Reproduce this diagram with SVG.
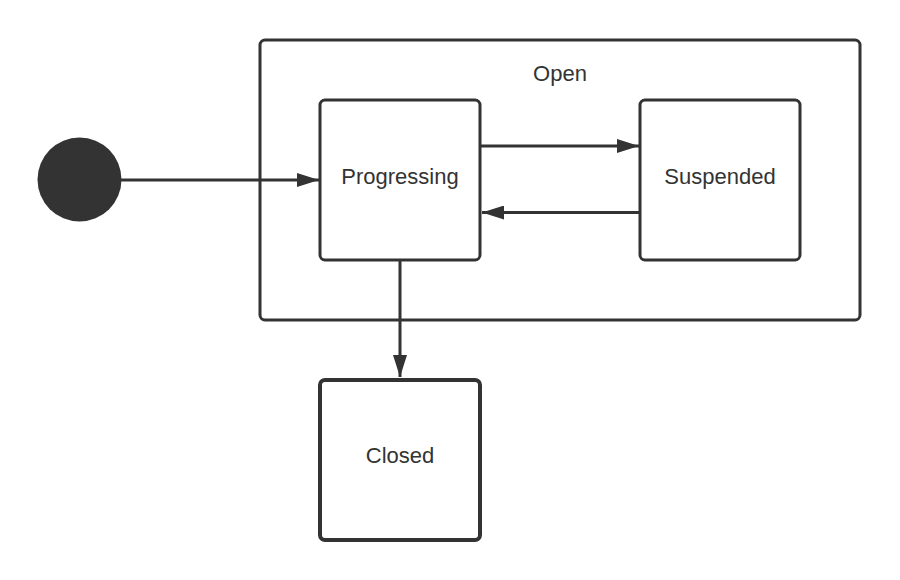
<svg xmlns="http://www.w3.org/2000/svg" width="900" height="580" viewBox="0 0 900 580">
  <defs>
    <style>
      .box { fill: #ffffff; stroke: #333333; stroke-width: 3; }
      .thick { stroke-width: 4; }
      .lbl { font-family: "Liberation Sans", Arial, sans-serif; font-size: 22px; fill: #333333; text-anchor: middle; }
      .edge { stroke: #333333; stroke-width: 3; fill: none; }
    </style>
    <marker id="arr" markerWidth="22" markerHeight="14" refX="22" refY="7" orient="auto" markerUnits="userSpaceOnUse">
      <path d="M0,0 L22,7 L0,14 Z" fill="#333333"/>
    </marker>
  </defs>
  <rect width="900" height="580" fill="#ffffff"/>
  <g id="open">
    <rect class="box" x="260" y="40" width="600" height="280" rx="5"/>
    <text class="lbl" x="560" y="81">Open</text>
  </g>
  <g id="start">
    <circle cx="79.5" cy="179.5" r="42" fill="#333333"/>
  </g>
  <g id="progressing">
    <rect class="box" x="320" y="100" width="160" height="160" rx="5"/>
    <text class="lbl" x="400" y="184">Progressing</text>
  </g>
  <g id="suspended">
    <rect class="box" x="640" y="100" width="160" height="160" rx="5"/>
    <text class="lbl" x="720" y="184">Suspended</text>
  </g>
  <g id="closed">
    <rect class="box thick" x="320" y="380" width="160" height="160" rx="5"/>
    <text class="lbl" x="400" y="463">Closed</text>
  </g>
  <g id="connectors">
    <line class="edge" x1="121" y1="180" x2="319" y2="180" marker-end="url(#arr)"/>
    <line class="edge" x1="481" y1="146" x2="639" y2="146" marker-end="url(#arr)"/>
    <line class="edge" x1="639" y1="212.5" x2="482" y2="212.5" marker-end="url(#arr)"/>
    <line class="edge" x1="400" y1="261" x2="400" y2="377" marker-end="url(#arr)"/>
  </g>
</svg>
